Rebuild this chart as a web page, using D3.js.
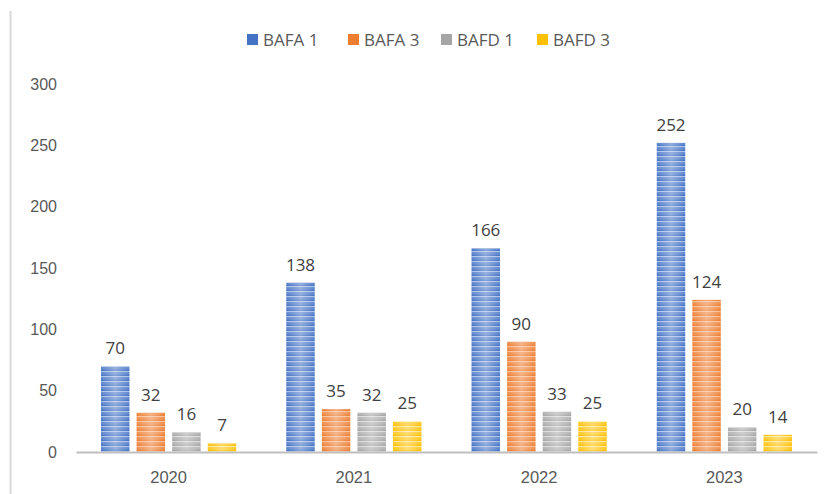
<!DOCTYPE html>
<html><head><meta charset="utf-8">
<script src="https://cdn.jsdelivr.net/npm/d3@7"></script>
<style>body{margin:0;background:#fff}svg{display:block;font-family:"Open Sans","Noto Sans",Arial,sans-serif}</style>
</head><body>
<script>
const categories = ["2020","2021","2022","2023"];
const seriesNames = ["BAFA 1","BAFA 3","BAFD 1","BAFD 3"];
const bafa1 = [70,138,166,252];
const bafa3 = [32,35,90,124];
const bafd1 = [16,32,33,20];
const bafd3 = [7,25,25,14];
const yTicks = [0,50,100,150,200,250,300];
const colors = ["#4472C4","#ED7D31","#A5A5A5","#FFC000"];
const lightColors = ["#A9C0E8","#F7BE98","#DADADA","#FFE49A"];
const seriesValues = [bafa1,bafa3,bafd1,bafd3];

const W=835,H=494;
const svg=d3.select("body").append("svg").attr("width",W).attr("height",H);
const defs=svg.append("defs");
colors.forEach((c,i)=>{
  const p=defs.append("pattern").attr("id","pat"+i).attr("patternUnits","userSpaceOnUse")
    .attr("width",40).attr("height",5);
  p.append("rect").attr("width",40).attr("height",5).attr("fill",c);
  p.append("rect").attr("y",1).attr("width",40).attr("height",1.3).attr("fill",lightColors[i]);
  p.append("rect").attr("y",3.6).attr("width",40).attr("height",0.7).attr("fill",lightColors[i]).attr("opacity",0.6);
});
const g=defs.append("linearGradient").attr("id","sheen").attr("x1","0").attr("x2","1").attr("y1","0").attr("y2","0");
g.append("stop").attr("offset","0").attr("stop-color","#fff").attr("stop-opacity",0);
g.append("stop").attr("offset","0.5").attr("stop-color","#fff").attr("stop-opacity",0.35);
g.append("stop").attr("offset","1").attr("stop-color","#fff").attr("stop-opacity",0);

svg.append("line").attr("x1",10.5).attr("x2",10.5).attr("y1",11).attr("y2",H).attr("stroke","#d9d9d9").attr("stroke-width",2);

const x0=d3.scaleBand().domain(categories).range([76,817]).paddingInner(0.27).paddingOuter(0.135);
const x1=d3.scaleBand().domain(seriesNames).range([0,x0.bandwidth()]).paddingInner(0.2);
const y=d3.scaleLinear().domain([0,300]).range([452,84]);

const ya=svg.append("g").attr("transform","translate(57,0)").call(d3.axisLeft(y).tickValues(yTicks).tickSize(0).tickPadding(0));
ya.select(".domain").remove();
ya.selectAll("text").attr("font-size",16).attr("fill","#595959").style("font-family","inherit");

const groups=svg.append("g").selectAll("g").data(categories).join("g")
  .attr("transform",d=>`translate(${x0(d)},0)`);
seriesNames.forEach((s,si)=>{
  groups.append("rect").attr("x",x1(s)).attr("width",x1.bandwidth())
    .attr("y",(d,ci)=>y(seriesValues[si][ci])).attr("height",(d,ci)=>y(0)-y(seriesValues[si][ci]))
    .attr("fill",`url(#pat${si})`);
  groups.append("rect").attr("x",x1(s)).attr("width",x1.bandwidth())
    .attr("y",(d,ci)=>y(seriesValues[si][ci])).attr("height",(d,ci)=>y(0)-y(seriesValues[si][ci]))
    .attr("fill","url(#sheen)");
  groups.append("text").attr("x",x1(s)+x1.bandwidth()/2)
    .attr("y",(d,ci)=>y(seriesValues[si][ci])-12)
    .attr("text-anchor","middle").attr("font-size",17).attr("fill","#404040")
    .text((d,ci)=>seriesValues[si][ci]);
});

const xa=svg.append("g").attr("transform","translate(0,452)").call(d3.axisBottom(x0).tickSize(0).tickPadding(19));
xa.select(".domain").attr("stroke","#BFBFBF").attr("stroke-width",2);
xa.selectAll("text").attr("font-size",16.5).attr("fill","#595959").style("font-family","inherit");

const legX=[247,348,441,537];
const leg=svg.append("g").selectAll("g").data(seriesNames).join("g")
  .attr("transform",(d,i)=>`translate(${legX[i]},40)`);
leg.append("rect").attr("x",0).attr("y",-6).attr("width",11).attr("height",11).attr("fill",(d,i)=>colors[i]);
leg.append("text").attr("x",16).attr("y",0).attr("dy","0.35em").attr("font-size",17).attr("fill","#595959").text(d=>d);
</script>
</body></html>
